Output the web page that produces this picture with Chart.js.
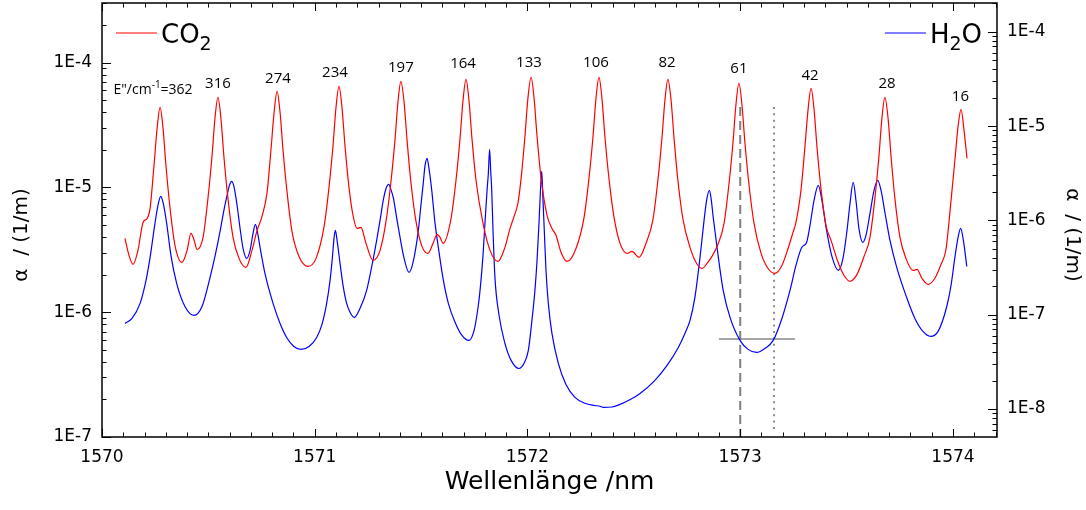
<!DOCTYPE html>
<html>
<head>
<meta charset="utf-8">
<script src="https://cdn.jsdelivr.net/npm/chart.js@4.4.1/dist/chart.umd.min.js"></script>
<style>
  html, body { margin: 0; padding: 0; background: #fff; }
</style>
</head>
<body>
<canvas id="spectrum" width="1086" height="510"></canvas>
<script>
// CO2 absorption, [wavelength nm, alpha 1/m] (left axis)
const co2Points = [
  [1570.108, 3.90e-6], [1570.127, 2.85e-6], [1570.146, 2.42e-6], [1570.169, 3.13e-6], [1570.193, 5.24e-6],
  [1570.212, 5.64e-6], [1570.226, 6.79e-6], [1570.244, 1.47e-5], [1570.259, 2.97e-5], [1570.273, 4.38e-5],
  [1570.287, 2.97e-5], [1570.301, 1.47e-5], [1570.320, 6.79e-6], [1570.343, 3.43e-6], [1570.376, 2.51e-6],
  [1570.400, 3.13e-6], [1570.418, 4.28e-6], [1570.432, 3.83e-6], [1570.447, 3.18e-6], [1570.475, 3.98e-6],
  [1570.498, 8.16e-6], [1570.517, 1.77e-5], [1570.531, 3.57e-5], [1570.545, 5.26e-5], [1570.559, 3.57e-5],
  [1570.573, 1.77e-5], [1570.592, 8.16e-6], [1570.616, 3.98e-6], [1570.644, 2.70e-6], [1570.677, 2.29e-6],
  [1570.705, 3.13e-6], [1570.729, 4.52e-6], [1570.752, 5.86e-6], [1570.776, 9.12e-6], [1570.794, 1.98e-5],
  [1570.809, 3.99e-5], [1570.823, 5.88e-5], [1570.837, 3.99e-5], [1570.851, 1.98e-5], [1570.870, 9.12e-6],
  [1570.893, 4.44e-6], [1570.926, 2.80e-6], [1570.968, 2.33e-6], [1571.006, 2.70e-6], [1571.044, 4.87e-6],
  [1571.067, 1.00e-5], [1571.086, 2.17e-5], [1571.100, 4.38e-5], [1571.114, 6.45e-5], [1571.128, 4.38e-5],
  [1571.142, 2.17e-5], [1571.161, 1.00e-5], [1571.180, 5.96e-6], [1571.199, 4.69e-6], [1571.217, 4.78e-6],
  [1571.241, 3.56e-6], [1571.274, 2.60e-6], [1571.307, 3.13e-6], [1571.335, 5.34e-6], [1571.358, 1.10e-5],
  [1571.377, 2.38e-5], [1571.391, 4.80e-5], [1571.405, 7.07e-5], [1571.420, 4.80e-5], [1571.434, 2.38e-5],
  [1571.452, 1.10e-5], [1571.476, 5.34e-6], [1571.504, 3.37e-6], [1571.532, 2.96e-6], [1571.556, 3.56e-6],
  [1571.575, 4.20e-6], [1571.589, 3.98e-6], [1571.603, 3.56e-6], [1571.640, 5.54e-6], [1571.664, 1.14e-5],
  [1571.683, 2.47e-5], [1571.697, 4.98e-5], [1571.711, 7.34e-5], [1571.725, 4.98e-5], [1571.739, 2.47e-5],
  [1571.758, 1.14e-5], [1571.791, 5.15e-6], [1571.824, 3.13e-6], [1571.861, 2.55e-6], [1571.894, 3.31e-6],
  [1571.918, 4.69e-6], [1571.937, 5.86e-6], [1571.955, 7.44e-6], [1571.970, 1.18e-5], [1571.988, 2.56e-5],
  [1572.002, 5.17e-5], [1572.017, 7.61e-5], [1572.031, 5.17e-5], [1572.045, 2.56e-5], [1572.064, 1.18e-5],
  [1572.092, 5.96e-6], [1572.115, 4.69e-6], [1572.134, 4.13e-6], [1572.158, 3.01e-6], [1572.186, 2.55e-6],
  [1572.228, 3.24e-6], [1572.266, 5.75e-6], [1572.289, 1.18e-5], [1572.308, 2.56e-5], [1572.322, 5.17e-5],
  [1572.336, 7.61e-5], [1572.350, 5.17e-5], [1572.364, 2.56e-5], [1572.383, 1.18e-5], [1572.407, 5.75e-6],
  [1572.435, 3.56e-6], [1572.468, 2.96e-6], [1572.491, 3.07e-6], [1572.524, 2.75e-6], [1572.557, 3.56e-6],
  [1572.590, 5.54e-6], [1572.613, 1.14e-5], [1572.632, 2.47e-5], [1572.646, 4.98e-5], [1572.660, 7.34e-5],
  [1572.675, 4.98e-5], [1572.689, 2.47e-5], [1572.707, 1.14e-5], [1572.731, 5.54e-6], [1572.764, 3.31e-6],
  [1572.792, 2.51e-6], [1572.820, 2.24e-6], [1572.844, 2.46e-6], [1572.867, 2.80e-6], [1572.895, 3.49e-6],
  [1572.924, 5.15e-6], [1572.947, 1.06e-5], [1572.966, 2.29e-5], [1572.980, 4.62e-5], [1572.994, 6.81e-5],
  [1573.008, 4.62e-5], [1573.022, 2.29e-5], [1573.041, 1.06e-5], [1573.065, 5.15e-6], [1573.098, 2.96e-6],
  [1573.131, 2.24e-6], [1573.163, 2.05e-6], [1573.196, 2.37e-6], [1573.225, 3.24e-6], [1573.248, 4.36e-6],
  [1573.262, 5.24e-6], [1573.286, 9.64e-6], [1573.304, 2.09e-5], [1573.319, 4.22e-5], [1573.333, 6.21e-5],
  [1573.347, 4.22e-5], [1573.361, 2.09e-5], [1573.380, 9.64e-6], [1573.403, 4.96e-6], [1573.427, 3.76e-6],
  [1573.460, 2.51e-6], [1573.488, 1.97e-6], [1573.516, 1.77e-6], [1573.549, 2.01e-6], [1573.582, 2.80e-6],
  [1573.610, 3.98e-6], [1573.633, 8.16e-6], [1573.652, 1.77e-5], [1573.666, 3.57e-5], [1573.680, 5.26e-5],
  [1573.695, 3.57e-5], [1573.709, 1.77e-5], [1573.727, 8.16e-6], [1573.751, 3.98e-6], [1573.779, 2.70e-6],
  [1573.812, 2.16e-6], [1573.831, 2.20e-6], [1573.854, 1.87e-6], [1573.883, 1.67e-6], [1573.915, 1.87e-6],
  [1573.944, 2.42e-6], [1573.967, 3.18e-6], [1573.991, 7.87e-6], [1574.009, 1.65e-5], [1574.024, 3.08e-5],
  [1574.038, 4.22e-5], [1574.052, 2.86e-5], [1574.066, 1.71e-5]
];

// H2O absorption, [wavelength nm, alpha 1/m] (right axis)
const h2oPoints = [
  [1570.108, 8.08e-8], [1570.141, 9.13e-8], [1570.179, 1.32e-7], [1570.207, 2.31e-7], [1570.226, 4.05e-7],
  [1570.249, 9.29e-7], [1570.263, 1.44e-6], [1570.276, 1.80e-6], [1570.289, 1.48e-6], [1570.304, 9.29e-7],
  [1570.324, 4.26e-7], [1570.351, 2.15e-7], [1570.390, 1.22e-7], [1570.432, 9.83e-8], [1570.470, 1.22e-7],
  [1570.508, 2.49e-7], [1570.531, 4.15e-7], [1570.555, 7.65e-7], [1570.573, 1.28e-6], [1570.588, 1.84e-6],
  [1570.599, 2.35e-6], [1570.610, 2.59e-6], [1570.620, 2.29e-6], [1570.635, 1.44e-6], [1570.649, 8.23e-7],
  [1570.663, 5.05e-7], [1570.680, 3.95e-7], [1570.696, 4.81e-7], [1570.710, 7.28e-7], [1570.721, 9.07e-7],
  [1570.731, 7.46e-7], [1570.743, 5.17e-7], [1570.766, 2.74e-7], [1570.804, 1.32e-7], [1570.837, 8.08e-8],
  [1570.868, 5.74e-8], [1570.902, 4.61e-8], [1570.935, 4.29e-8], [1570.973, 4.61e-8], [1571.009, 5.74e-8],
  [1571.034, 7.89e-8], [1571.056, 1.32e-7], [1571.072, 2.31e-7], [1571.083, 4.05e-7], [1571.091, 6.60e-7],
  [1571.097, 7.83e-7], [1571.105, 6.14e-7], [1571.119, 3.50e-7], [1571.133, 2.05e-7], [1571.150, 1.32e-7],
  [1571.166, 1.06e-7], [1571.185, 9.36e-8], [1571.213, 1.17e-7], [1571.244, 1.81e-7], [1571.269, 3.33e-7],
  [1571.291, 6.14e-7], [1571.307, 1.00e-6], [1571.322, 1.63e-6], [1571.335, 2.18e-6], [1571.348, 2.41e-6],
  [1571.358, 2.13e-6], [1571.369, 1.75e-6], [1571.387, 1.00e-6], [1571.401, 6.60e-7], [1571.420, 3.95e-7],
  [1571.443, 2.81e-7], [1571.462, 3.59e-7], [1571.487, 7.83e-7], [1571.499, 1.44e-6], [1571.510, 2.47e-6],
  [1571.518, 3.74e-6], [1571.528, 4.55e-6], [1571.537, 3.56e-6], [1571.550, 2.08e-6], [1571.565, 9.52e-7],
  [1571.581, 5.17e-7], [1571.603, 2.43e-7], [1571.628, 1.32e-7], [1571.660, 8.28e-8], [1571.692, 6.03e-8],
  [1571.725, 5.34e-8], [1571.749, 6.82e-8], [1571.767, 1.17e-7], [1571.777, 1.81e-7], [1571.791, 4.26e-7],
  [1571.800, 9.29e-7], [1571.810, 2.08e-6], [1571.816, 3.15e-6], [1571.822, 5.66e-6], [1571.827, 3.39e-6],
  [1571.832, 2.08e-6], [1571.838, 7.83e-7], [1571.847, 2.49e-7], [1571.866, 1.00e-7], [1571.894, 4.96e-8],
  [1571.923, 3.28e-8], [1571.960, 2.69e-8], [1571.984, 3.05e-8], [1572.004, 4.18e-8], [1572.021, 8.70e-8],
  [1572.035, 1.81e-7], [1572.045, 3.77e-7], [1572.054, 9.29e-7], [1572.061, 2.08e-6], [1572.067, 3.31e-6],
  [1572.073, 1.63e-6], [1572.079, 7.83e-7], [1572.087, 2.95e-7], [1572.098, 1.32e-7], [1572.115, 6.33e-8],
  [1572.145, 3.05e-8], [1572.181, 1.82e-8], [1572.223, 1.33e-8], [1572.270, 1.15e-8], [1572.317, 1.09e-8],
  [1572.341, 1.07e-8], [1572.356, 1.04e-8], [1572.397, 1.05e-8], [1572.435, 1.12e-8], [1572.474, 1.23e-8],
  [1572.529, 1.46e-8], [1572.599, 2.01e-8], [1572.656, 2.90e-8], [1572.709, 4.50e-8], [1572.740, 6.33e-8],
  [1572.764, 8.70e-8], [1572.787, 1.53e-7], [1572.811, 4.05e-7], [1572.830, 1.00e-6], [1572.842, 1.63e-6],
  [1572.855, 2.08e-6], [1572.863, 1.71e-6], [1572.873, 1.08e-6], [1572.891, 5.17e-7], [1572.920, 1.81e-7],
  [1572.952, 9.36e-8], [1572.999, 5.34e-8], [1573.037, 4.29e-8], [1573.077, 3.98e-8], [1573.116, 4.39e-8],
  [1573.155, 5.34e-8], [1573.196, 9.13e-8], [1573.234, 1.81e-7], [1573.262, 3.33e-7], [1573.289, 5.17e-7],
  [1573.312, 5.84e-7], [1573.328, 8.85e-7], [1573.347, 1.63e-6], [1573.367, 2.35e-6], [1573.384, 1.63e-6],
  [1573.406, 7.83e-7], [1573.431, 4.15e-7], [1573.461, 2.95e-7], [1573.483, 3.95e-7], [1573.502, 7.83e-7],
  [1573.516, 1.51e-6], [1573.531, 2.53e-6], [1573.544, 1.63e-6], [1573.558, 8.23e-7], [1573.576, 5.84e-7],
  [1573.591, 6.93e-7], [1573.610, 1.19e-6], [1573.629, 2.08e-6], [1573.646, 2.66e-6], [1573.662, 2.08e-6],
  [1573.680, 1.22e-6], [1573.704, 6.14e-7], [1573.737, 3.10e-7], [1573.782, 1.53e-7], [1573.821, 9.13e-8],
  [1573.859, 6.65e-8], [1573.895, 5.89e-8], [1573.930, 6.65e-8], [1573.970, 1.20e-7], [1573.991, 2.05e-7],
  [1574.009, 4.05e-7], [1574.024, 6.60e-7], [1574.036, 8.23e-7], [1574.049, 6.14e-7], [1574.065, 3.25e-7]
];

// lower-state energies E" of the CO2 lines and where their labels sit (wavelength, alpha on left axis)
const lineEnergies = ['362', '316', '274', '234', '197', '164', '133', '106', '82', '61', '42', '28', '16'];
const labelWl = [1570.240, 1570.545, 1570.827, 1571.095, 1571.405, 1571.697, 1572.007, 1572.322, 1572.656, 1572.994, 1573.328, 1573.690, 1574.035];
const labelAlpha = [5.99e-5, 6.75e-5, 7.40e-5, 8.27e-5, 9.15e-5, 9.85e-5, 1.00e-4, 1.00e-4, 1.00e-4, 8.99e-5, 7.90e-5, 6.81e-5, 5.36e-5];

// gray markers: dashed line at the CO2 line, dotted line at the CO2 minimum, H2O level bar
const dashedMark = [[1573.000, 4.41e-5], [1573.000, 1.0e-7]];
const dottedMark = [[1573.159, 4.41e-5], [1573.159, 1.08e-7]];
const levelMark = [[1572.900, 6.09e-7], [1573.257, 6.09e-7]];

const xTicks = [1570, 1571, 1572, 1573, 1574];
const leftDecades = [1e-7, 1e-6, 1e-5, 1e-4];
const rightDecades = [1e-8, 1e-7, 1e-6, 1e-5, 1e-4];

const FONT = 'DejaVu Sans';
const toXY = pts => pts.map(p => ({ x: p[0], y: p[1] }));
const expLabel = v => '1E' + Math.round(Math.log10(v));
const noPad = s => { s.paddingTop = 0; s.paddingBottom = 0; };

// inward ticks on all four sides, box frame, peak labels, legend and y titles
const decorations = {
  id: 'decorations',
  afterDraw(chart) {
    const { ctx, chartArea: a, scales } = chart;
    const { x, y, y2 } = scales;
    ctx.save();
    ctx.strokeStyle = '#000';
    ctx.lineWidth = 1;
    const seg = (x1, y1, x2, y2_) => { ctx.beginPath(); ctx.moveTo(x1, y1); ctx.lineTo(x2, y2_); ctx.stroke(); };

    for (let i = 0; i <= 42; i++) {
      const v = 1570 + i * 0.1;
      if (v > x.max) break;
      const px = Math.round(x.getPixelForValue(v)) + 0.5;
      const len = i % 10 === 0 ? 8 : 4.5;
      seg(px, a.bottom, px, a.bottom - len);
      seg(px, a.top, px, a.top + len);
    }
    const logTicks = (scale, edge, dir) => {
      const lo = Math.floor(Math.log10(scale.min));
      const hi = Math.ceil(Math.log10(scale.max));
      for (let e = lo; e <= hi; e++) {
        for (let m = 1; m <= 9; m++) {
          const v = m * Math.pow(10, e);
          if (v < scale.min || v > scale.max) continue;
          const py = Math.round(scale.getPixelForValue(v)) + 0.5;
          seg(edge, py, edge + dir * (m === 1 ? 9 : 4.5), py);
        }
      }
    };
    logTicks(y, a.left, 1);
    logTicks(y2, a.right, -1);

    ctx.lineWidth = 1.5;
    ctx.strokeRect(a.left, a.top, a.right - a.left, a.bottom - a.top);

    // E" labels above the CO2 lines
    ctx.fillStyle = '#000';
    ctx.textBaseline = 'middle';
    lineEnergies.forEach((txt, i) => {
      const px = x.getPixelForValue(labelWl[i]);
      const py = y.getPixelForValue(labelAlpha[i]);
      if (i === 0) {
        const parts = [['E"/cm', 14, 0], ['-1', 10, -5], ['=' + txt, 14, 0]];
        let w = 0;
        parts.forEach(p => { ctx.font = p[1] + 'px "Open Sans"'; w += ctx.measureText(p[0]).width; });
        let cx = px - w / 2;
        ctx.textAlign = 'left';
        parts.forEach(p => {
          ctx.font = p[1] + 'px "Open Sans"';
          ctx.fillText(p[0], cx, py + p[2]);
          cx += ctx.measureText(p[0]).width;
        });
      } else {
        ctx.font = '15px "Open Sans"';
        ctx.textAlign = 'center';
        ctx.fillText(txt, px, py);
      }
    });

    // legend with subscripts
    const partsWidth = parts => parts.reduce((w, p) => {
      ctx.font = p[1] + 'px ' + FONT;
      return w + ctx.measureText(p[0]).width;
    }, 0);
    const legendEntry = (tx, color, parts) => {
      ctx.strokeStyle = color;
      ctx.lineWidth = 1.2;
      seg(tx - 45, a.top + 30, tx - 4, a.top + 30);
      let cx = tx;
      ctx.fillStyle = '#000';
      ctx.textAlign = 'left';
      ctx.textBaseline = 'alphabetic';
      parts.forEach(p => {
        ctx.font = p[1] + 'px ' + FONT;
        ctx.fillText(p[0], cx, a.top + 40 + p[2]);
        cx += ctx.measureText(p[0]).width;
      });
    };
    const co2Parts = [['CO', 26, 0], ['2', 19, 7]];
    const h2oParts = [['H', 26, 0], ['2', 19, 7], ['O', 26, 0]];
    legendEntry(a.left + 59, '#ff0000', co2Parts);
    legendEntry(a.right - 15 - partsWidth(h2oParts), '#0000ff', h2oParts);

    // y axis titles
    const midY = (a.top + a.bottom) / 2 + 15;
    ctx.font = '20px ' + FONT;
    ctx.textAlign = 'center';
    ctx.textBaseline = 'middle';
    ctx.save();
    ctx.translate(a.left - 80, midY);
    ctx.rotate(-Math.PI / 2);
    ctx.fillText('\u03b1  / (1/m)', 0, 0);
    ctx.restore();
    ctx.save();
    ctx.translate(a.right + 75, midY);
    ctx.rotate(Math.PI / 2);
    ctx.fillText('\u03b1  / (1/m)', 0, 0);
    ctx.restore();

    ctx.restore();
  }
};

const ctx = document.getElementById('spectrum').getContext('2d');
const chart = new Chart(ctx, {
  type: 'line',
  data: {
    datasets: [
      {
        label: 'CO2',
        data: toXY(co2Points),
        yAxisID: 'y',
        borderColor: '#ff0000',
        borderWidth: 1.2,
        pointRadius: 0,
        cubicInterpolationMode: 'monotone',
        fill: false
      },
      {
        label: 'H2O',
        data: toXY(h2oPoints),
        yAxisID: 'y2',
        borderColor: '#0000ff',
        borderWidth: 1.2,
        pointRadius: 0,
        cubicInterpolationMode: 'monotone',
        fill: false
      },
      {
        label: 'dashed',
        data: toXY(dashedMark),
        yAxisID: 'y',
        borderColor: '#808080',
        borderWidth: 2,
        borderDash: [9, 5],
        pointRadius: 0
      },
      {
        label: 'dotted',
        data: toXY(dottedMark),
        yAxisID: 'y',
        borderColor: '#8c8c8c',
        borderWidth: 2,
        borderDash: [2, 4.4],
        pointRadius: 0
      },
      {
        label: 'level',
        data: toXY(levelMark),
        yAxisID: 'y',
        borderColor: '#888888',
        borderWidth: 1.5,
        pointRadius: 0
      }
    ]
  },
  options: {
    responsive: false,
    animation: false,
    layout: { padding: { top: 3, left: 0, right: 0, bottom: 0 } },
    plugins: {
      legend: { display: false },
      tooltip: { enabled: false }
    },
    scales: {
      x: {
        type: 'linear',
        position: 'bottom',
        min: 1570,
        max: 1574.207,
        afterFit: s => { s.height = 73; s.paddingLeft = 0; s.paddingRight = 0; },
        afterBuildTicks: s => { s.ticks = xTicks.map(v => ({ value: v })); },
        grid: { display: false, drawTicks: false },
        border: { display: false },
        ticks: { color: '#000', font: { family: FONT, size: 17 }, padding: 10, maxRotation: 0, callback: v => String(v) },
        title: {
          display: true,
          text: 'Wellenlänge /nm',
          color: '#000',
          font: { family: FONT, size: 25 },
          padding: { top: 0, bottom: 13 }
        }
      },
      y: {
        type: 'logarithmic',
        position: 'left',
        min: 1e-7,
        max: 3.003e-4,
        afterFit: s => { s.width = 102; noPad(s); },
        afterBuildTicks: s => { s.ticks = leftDecades.map(v => ({ value: v, major: true })); },
        grid: { display: false, drawTicks: false },
        border: { display: false },
        ticks: { color: '#000', font: { family: FONT, size: 17 }, padding: 10, callback: expLabel }
      },
      y2: {
        type: 'logarithmic',
        position: 'right',
        min: 5.05e-9,
        max: 2.02e-4,
        afterFit: s => { s.width = 89; noPad(s); },
        afterBuildTicks: s => { s.ticks = rightDecades.map(v => ({ value: v, major: true })); },
        grid: { display: false, drawTicks: false },
        border: { display: false },
        ticks: { color: '#000', font: { family: FONT, size: 17 }, padding: 10, callback: expLabel }
      }
    }
  },
  plugins: [decorations]
});
</script>
</body>
</html>
